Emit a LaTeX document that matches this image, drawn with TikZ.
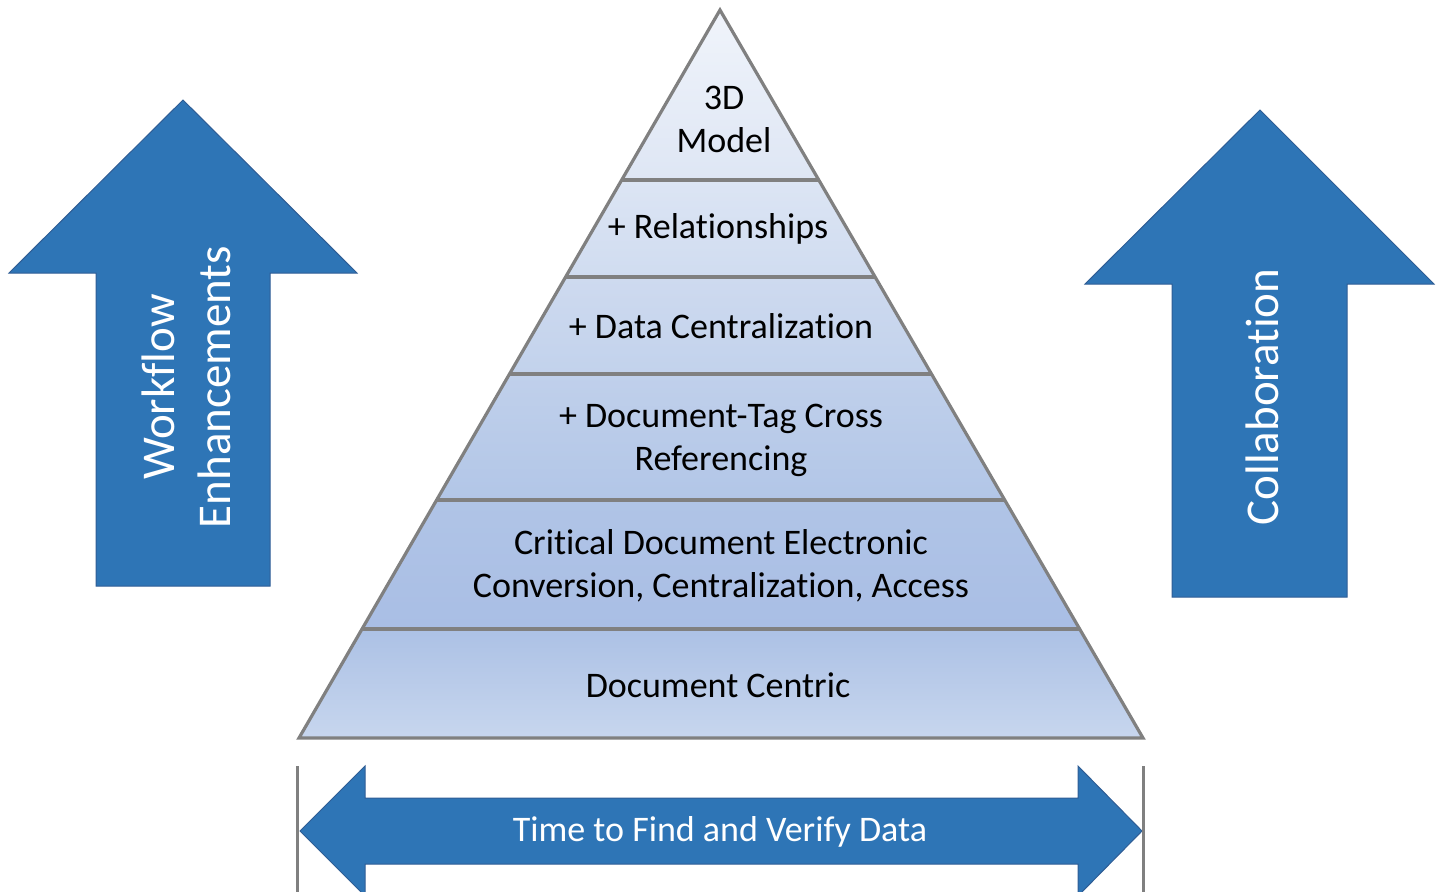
\documentclass[tikz,border=0pt]{standalone}
\usepackage{fontspec}
\setmainfont{Carlito}[RawFeature={-liga;-clig;-calt;-dlig}]
\usetikzlibrary{calc}
\definecolor{arrowblue}{HTML}{2E75B6}
\definecolor{arrowedge}{HTML}{2F5D95}
\definecolor{pyredge}{HTML}{808080}
\begin{document}
\begin{tikzpicture}[x=1pt,y=-1pt,
  arrowshape/.style={fill=arrowblue,draw=arrowedge,line width=1pt,line join=miter},
  layertext/.style={font=\fontsize{36}{43}\selectfont,align=center,text=black,inner sep=0pt},
  sidetext/.style={font=\fontsize{47}{56}\selectfont,align=center,text=white,inner sep=0pt,rotate=90},
  bartext/.style={font=\fontsize{36}{43}\selectfont,text=white,inner sep=0pt},
  pyrline/.style={draw=pyredge,line width=3.2pt},
  boundline/.style={draw=pyredge,line width=3pt}]
\useasboundingbox (0,0) rectangle (1444,892);

% pyramid coordinates
\coordinate (A) at (720,10);
\coordinate (L1) at (621.7,180); \coordinate (R1) at (818.8,180);
\coordinate (L2) at (565.6,277); \coordinate (R2) at (875.1,277);
\coordinate (L3) at (509.5,374); \coordinate (R3) at (931.5,374);
\coordinate (L4) at (436.6,500); \coordinate (R4) at (1004.7,500);
\coordinate (L5) at (362.0,629); \coordinate (R5) at (1079.7,629);
\coordinate (L6) at (299,738);   \coordinate (R6) at (1143,738);

% layer shadings
\shade[top color={rgb,255:red,240;green,244;blue,251},bottom color={rgb,255:red,222;green,230;blue,244}] (A) -- (R1) -- (L1) -- cycle;
\shade[top color={rgb,255:red,220;green,229;blue,244},bottom color={rgb,255:red,208;green,220;blue,240}] (L1) -- (R1) -- (R2) -- (L2) -- cycle;
\shade[top color={rgb,255:red,206;green,218;blue,239},bottom color={rgb,255:red,194;green,210;blue,236}] (L2) -- (R2) -- (R3) -- (L3) -- cycle;
\shade[top color={rgb,255:red,192;green,208;blue,235},bottom color={rgb,255:red,178;green,198;blue,231}] (L3) -- (R3) -- (R4) -- (L4) -- cycle;
\shade[top color={rgb,255:red,176;green,196;blue,230},bottom color={rgb,255:red,169;green,190;blue,229}] (L4) -- (R4) -- (R5) -- (L5) -- cycle;
\shade[top color={rgb,255:red,172;green,193;blue,229},bottom color={rgb,255:red,199;green,214;blue,238}] (L5) -- (R5) -- (R6) -- (L6) -- cycle;

% layer separators and outline
\draw[pyrline] (L1) -- (R1);
\draw[pyrline] (L2) -- (R2);
\draw[pyrline] (L3) -- (R3);
\draw[pyrline] (L4) -- (R4);
\draw[pyrline] (L5) -- (R5);
\draw[pyrline,line join=miter] (A) -- (R6) -- (L6) -- cycle;

% layer texts
\node[layertext] (t1) at (724,119) {3D\\Model};
\node[layertext] (t2) at (718,229) {+ Relationships};
\node[layertext] (t3) at (721,326) {+ Data Centralization};
\node[layertext] (t4) at (721,440) {+ Document-Tag Cross\\Referencing};
\node[layertext] (t5) at (721,566) {Critical Document Electronic\\Conversion, Centralization, Access};
\node[layertext] (t6) at (718,685) {Document Centric};

% left up arrow
\draw[arrowshape] (183,100) -- (357,273) -- (270,273) -- (270,586) -- (96,586) -- (96,273) -- (9,273) -- cycle;
\node[sidetext] (wf) at (186,387) {Workflow\\Enhancements};

% right up arrow
\draw[arrowshape] (1260,110) -- (1434,284) -- (1347,284) -- (1347,597) -- (1172,597) -- (1172,284) -- (1085,284) -- cycle;
\node[sidetext] (col) at (1262,397) {Collaboration};

% bottom double arrow
\draw[arrowshape] (300,831) -- (365,766) -- (365,798) -- (1078,798) -- (1078,766) -- (1142,831) -- (1078,896) -- (1078,864) -- (365,864) -- (365,896) -- cycle;
\node[bartext] (tf) at (720,832) {Time to Find and Verify Data};

% boundary lines
\coordinate (bl1) at (297,766); \coordinate (bl2) at (297,892);
\coordinate (br1) at (1143,766); \coordinate (br2) at (1143,892);
\draw[boundline] (bl1) -- (bl2);
\draw[boundline] (br1) -- (br2);
\end{tikzpicture}
\end{document}
